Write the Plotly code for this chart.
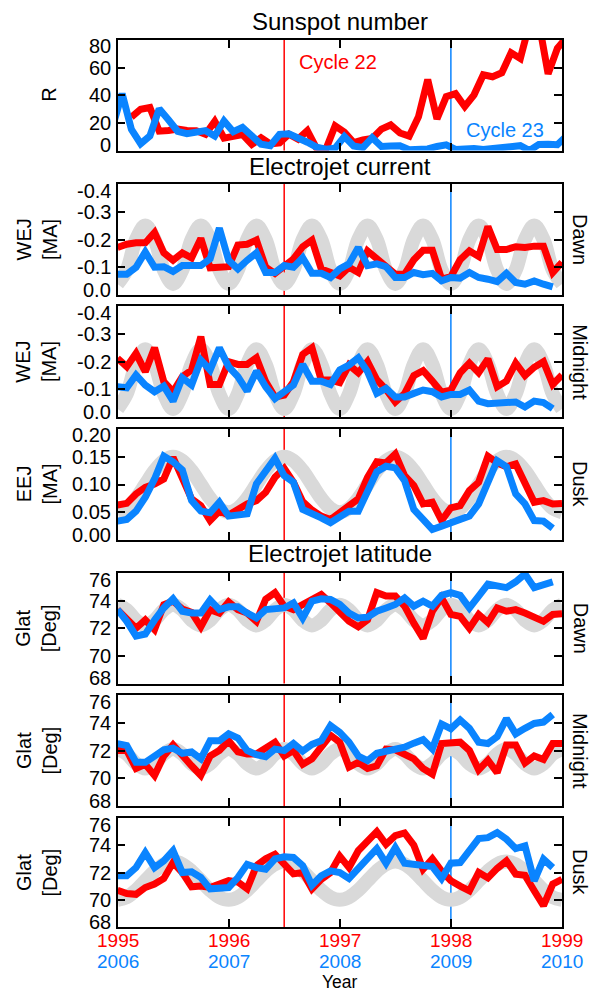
import numpy as np
import plotly.graph_objects as go

W, H = 592, 992
RED = "#ff0000"
BLUE = "#0a84ff"
GRAY = "#d9d9d9"
FONT = "Liberation Sans, Arial, Helvetica, sans-serif"

# ---------------- data ----------------
years_red = ["1995", "1996", "1997", "1998", "1999"]
years_blue = ["2006", "2007", "2008", "2009", "2010"]
year_ticks = [0, 1, 2, 3, 4]
cycle_min = [1.5, 3.0]          # cycle 22 / cycle 23 minima (years since start)

# monthly sunspot numbers (red: Jan 1995 - Dec 1998, blue: Nov 2005 - Dec 2009)
sun_red = [24.2, 29.9, 31.1, 14.0, 14.5, 15.6, 14.5, 14.3, 11.8, 21.1, 9.0, 10.0,
           11.5, 4.4, 9.2, 4.8, 5.5, 11.8, 8.2, 14.4, 1.6, 0.9, 17.9, 13.3,
           5.7, 7.6, 8.7, 15.5, 18.5, 12.7, 10.4, 24.4, 51.3, 22.8, 39.0, 41.2,
           31.9, 40.3, 54.8, 53.4, 56.3, 70.7, 66.6, 92.2, 92.9, 55.5, 74.0, 81.9]
sun_blue = [18.0, 41.1,
            15.3, 4.9, 10.6, 30.2, 22.3, 13.9, 12.2, 12.9, 14.4, 10.5, 21.4, 13.6,
            16.8, 10.7, 4.5, 3.4, 11.7, 12.1, 9.7, 6.0, 2.4, 0.9, 1.7, 10.1,
            3.3, 2.1, 9.3, 2.9, 3.2, 3.4, 0.5, 0.5, 1.1, 2.9, 4.1, 0.8,
            1.5, 1.4, 0.7, 1.2, 2.9, 2.6, 3.5, 0.0, 4.4, 4.6, 4.2, 10.6]

# WEJ dawn [MA]
wej_dawn_red = [-0.171, -0.183, -0.188, -0.188, -0.225, -0.152, -0.125, -0.152, -0.134, -0.204,
                -0.098, -0.098, -0.102, -0.180, -0.183, -0.198, -0.100, -0.078, -0.106, -0.130,
                -0.174, -0.198, -0.094, -0.078, -0.069, -0.100, -0.081, -0.159, -0.130, -0.106,
                -0.075, -0.075, -0.127, -0.161, -0.161, -0.057, -0.066, -0.127, -0.159, -0.139,
                -0.247, -0.164, -0.164, -0.174, -0.171, -0.176, -0.176, -0.081, -0.118]
wej_dawn_blue = [-0.075, -0.075, -0.100, -0.155, -0.100, -0.102, -0.085, -0.106, -0.106, -0.106,
                 -0.130, -0.241, -0.125, -0.094, -0.125, -0.152, -0.081, -0.081, -0.106, -0.100,
                 -0.134, -0.078, -0.078, -0.063, -0.094, -0.112, -0.171, -0.106, -0.112, -0.102,
                 -0.063, -0.063, -0.081, -0.073, -0.078, -0.051, -0.063, -0.061, -0.081, -0.063,
                 -0.057, -0.048, -0.078, -0.045, -0.039, -0.051, -0.039, -0.029]
wej_dawn_gray = [-0.04, -0.09, -0.20, -0.25, -0.20, -0.09, -0.04, -0.09, -0.20, -0.25, -0.20, -0.09,
                 -0.04, -0.09, -0.20, -0.25, -0.20, -0.09, -0.04, -0.09, -0.20, -0.25, -0.20, -0.09,
                 -0.04, -0.09, -0.20, -0.25, -0.20, -0.09, -0.04, -0.09, -0.20, -0.25, -0.20, -0.09,
                 -0.04, -0.09, -0.20, -0.25, -0.20, -0.09, -0.04, -0.09, -0.20, -0.25, -0.20, -0.09,
                 -0.04]

# WEJ midnight [MA]
wej_mid_red = [-0.212, -0.182, -0.230, -0.164, -0.250, -0.128, -0.092, -0.146, -0.170, -0.290,
               -0.118, -0.118, -0.200, -0.190, -0.190, -0.214, -0.128, -0.073, -0.080, -0.128,
               -0.226, -0.250, -0.134, -0.134, -0.125, -0.188, -0.160, -0.200, -0.135, -0.100,
               -0.055, -0.085, -0.150, -0.168, -0.130, -0.090, -0.098, -0.160, -0.195, -0.160,
               -0.210, -0.110, -0.130, -0.195, -0.150, -0.180, -0.200, -0.118, -0.152]
wej_mid_blue = [-0.110, -0.106, -0.152, -0.116, -0.092, -0.112, -0.058, -0.142, -0.116, -0.206,
                -0.170, -0.250, -0.182, -0.146, -0.094, -0.166, -0.110, -0.067, -0.092, -0.116,
                -0.190, -0.130, -0.130, -0.118, -0.170, -0.188, -0.214, -0.164, -0.086, -0.104,
                -0.073, -0.073, -0.086, -0.098, -0.092, -0.073, -0.082, -0.082, -0.098, -0.058,
                -0.049, -0.053, -0.055, -0.055, -0.037, -0.058, -0.053, -0.031]
wej_mid_gray = [-0.03, -0.084, -0.191, -0.245, -0.191, -0.084, -0.03, -0.084, -0.191, -0.245, -0.191, -0.084,
                -0.03, -0.084, -0.191, -0.245, -0.191, -0.084, -0.03, -0.084, -0.191, -0.245, -0.191, -0.084,
                -0.03, -0.084, -0.191, -0.245, -0.191, -0.084, -0.03, -0.084, -0.191, -0.245, -0.191, -0.084,
                -0.03, -0.084, -0.191, -0.245, -0.191, -0.084, -0.03, -0.084, -0.191, -0.245, -0.191, -0.084,
                -0.03]

# EEJ dusk [MA]
eej_red = [0.063, 0.066, 0.083, 0.095, 0.101, 0.110, 0.149, 0.113, 0.074, 0.062,
           0.035, 0.052, 0.045, 0.055, 0.065, 0.071, 0.086, 0.113, 0.129, 0.104,
           0.069, 0.054, 0.043, 0.037, 0.050, 0.062, 0.074, 0.113, 0.141, 0.139,
           0.155, 0.116, 0.098, 0.065, 0.068, 0.035, 0.058, 0.062, 0.089, 0.104,
           0.151, 0.139, 0.132, 0.137, 0.104, 0.068, 0.071, 0.065, 0.066]
eej_blue = [0.034, 0.037, 0.052, 0.077, 0.110, 0.151, 0.141, 0.126, 0.071, 0.052,
            0.049, 0.068, 0.043, 0.046, 0.047, 0.101, 0.123, 0.147, 0.116, 0.104,
            0.055, 0.049, 0.040, 0.031, 0.041, 0.052, 0.052, 0.089, 0.123, 0.133,
            0.130, 0.107, 0.055, 0.037, 0.019, 0.025, 0.031, 0.035, 0.043, 0.065,
            0.102, 0.143, 0.132, 0.083, 0.065, 0.035, 0.034, 0.021]
eej_gray = [0.05, 0.057, 0.075, 0.10, 0.125, 0.143, 0.15, 0.143, 0.125, 0.10, 0.075, 0.057,
            0.05, 0.057, 0.075, 0.10, 0.125, 0.143, 0.15, 0.143, 0.125, 0.10, 0.075, 0.057,
            0.05, 0.057, 0.075, 0.10, 0.125, 0.143, 0.15, 0.143, 0.125, 0.10, 0.075, 0.057,
            0.05, 0.057, 0.075, 0.10, 0.125, 0.143, 0.15, 0.143, 0.125, 0.10, 0.075, 0.057,
            0.05]

# Glat dawn [deg]
glat_dawn_red = [73.35, 72.74, 72.0, 72.6, 71.9, 73.7, 73.96, 73.4, 73.15, 72.1,
                 73.35, 73.1, 73.9, 73.35, 73.1, 72.5, 74.1, 74.58, 73.6, 73.35,
                 73.7, 74.1, 74.45, 73.84, 73.1, 72.5, 72.1, 72.6, 74.58, 74.33,
                 74.33, 73.6, 72.37, 71.26, 73.23, 74.2, 73.0, 72.86, 72.0, 73.0,
                 72.4, 73.47, 73.23, 73.35, 73.1, 72.74, 72.5, 73.0, 73.05]
glat_dawn_blue = [73.35, 72.5, 71.44, 71.58, 72.6, 73.47, 74.13, 73.23, 73.1, 73.1,
                  74.04, 73.35, 73.55, 73.55, 73.1, 72.74, 73.35, 73.47, 73.47, 73.84,
                  72.74, 73.96, 74.13, 74.08, 73.72, 73.1, 72.74, 72.8, 73.23, 73.47,
                  73.72, 74.2, 73.6, 73.96, 73.6, 74.38, 74.58, 74.38, 73.47, 74.33,
                  75.19, 75.07, 74.94, 75.36, 75.93, 74.94, 75.19, 75.36]
glat_dawn_gray = [73.7, 73.33, 72.58, 72.2, 72.58, 73.33, 73.7, 73.33, 72.58, 72.2, 72.58, 73.33,
                  73.7, 73.33, 72.58, 72.2, 72.58, 73.33, 73.7, 73.33, 72.58, 72.2, 72.58, 73.33,
                  73.7, 73.33, 72.58, 72.2, 72.58, 73.33, 73.7, 73.33, 72.58, 72.2, 72.58, 73.33,
                  73.7, 73.33, 72.58, 72.2, 72.58, 73.33, 73.7, 73.33, 72.58, 72.2, 72.58, 73.33,
                  73.7]

# Glat midnight [deg]
glat_mid_red = [72.0, 72.0, 70.7, 71.0, 70.2, 71.6, 72.4, 71.6, 70.9, 70.2,
                71.6, 72.0, 72.7, 71.9, 71.75, 71.75, 72.25, 72.6, 71.6, 72.0,
                71.0, 71.4, 72.25, 73.1, 72.6, 70.8, 71.15, 70.7, 70.9, 72.1,
                72.05, 71.76, 71.4, 70.7, 70.3, 72.5, 72.5, 72.6, 72.0, 70.6,
                71.3, 70.4, 72.4, 72.4, 71.1, 71.6, 71.35, 72.5, 72.5]
glat_mid_blue = [72.5, 72.36, 71.15, 71.15, 71.6, 72.05, 72.17, 71.8, 71.9, 71.4,
                 72.7, 72.7, 73.2, 72.9, 72.0, 71.7, 71.56, 72.1, 72.0, 72.5,
                 71.95, 72.44, 72.7, 73.8, 73.3, 72.6, 71.6, 71.27, 71.8, 71.95,
                 72.05, 72.24, 72.53, 72.78, 72.12, 73.9, 73.57, 74.2, 73.6, 72.6,
                 72.5, 73.0, 74.3, 73.2, 73.6, 73.95, 74.05, 74.6]
glat_mid_gray = [72.1, 71.75, 71.05, 70.7, 71.05, 71.75, 72.1, 71.75, 71.05, 70.7, 71.05, 71.75,
                 72.1, 71.75, 71.05, 70.7, 71.05, 71.75, 72.1, 71.75, 71.05, 70.7, 71.05, 71.75,
                 72.1, 71.75, 71.05, 70.7, 71.05, 71.75, 72.1, 71.75, 71.05, 70.7, 71.05, 71.75,
                 72.1, 71.75, 71.05, 70.7, 71.05, 71.75, 72.1, 71.75, 71.05, 70.7, 71.05, 71.75,
                 72.1]

# Glat dusk [deg]
glat_dusk_red = [70.7, 70.46, 70.4, 70.9, 71.15, 71.56, 72.73, 72.0, 70.95, 71.0,
                 70.9, 71.2, 71.4, 71.3, 70.8, 72.5, 73.0, 73.34, 72.6, 71.9,
                 72.0, 70.8, 71.5, 72.0, 73.2, 72.36, 73.6, 74.25, 75.0, 74.07,
                 74.7, 74.9, 74.0, 72.24, 73.0, 72.1, 71.4, 71.0, 70.66, 72.0,
                 71.6, 72.3, 72.85, 71.88, 71.8, 70.66, 69.56, 71.15, 71.5]
glat_dusk_blue = [71.76, 71.76, 72.36, 73.46, 72.36, 72.85, 73.6, 72.0, 72.05, 71.63,
                  70.8, 70.8, 70.9, 71.63, 72.6, 72.36, 72.24, 73.0, 73.15, 73.1,
                  72.5, 71.07, 71.76, 72.12, 72.0, 71.56, 72.24, 73.1, 73.75, 72.68,
                  73.83, 72.68, 72.6, 72.54, 72.44, 71.56, 72.68, 72.73, 73.58, 74.49,
                  74.56, 74.93, 74.44, 73.75, 73.95, 71.39, 72.98, 72.36]
glat_dusk_gray = [70.0, 70.19, 70.7, 71.4, 72.1, 72.61, 72.8, 72.61, 72.1, 71.4, 70.7, 70.19,
                  70.0, 70.19, 70.7, 71.4, 72.1, 72.61, 72.8, 72.61, 72.1, 71.4, 70.7, 70.19,
                  70.0, 70.19, 70.7, 71.4, 72.1, 72.61, 72.8, 72.61, 72.1, 71.4, 70.7, 70.19,
                  70.0, 70.19, 70.7, 71.4, 72.1, 72.61, 72.8, 72.61, 72.1, 71.4, 70.7, 70.19,
                  70.0]

sun_ticks = [0, 20, 40, 60, 80]
wej_ticks = [-0.4, -0.3, -0.2, -0.1, 0.0]
wej_ticktext = ["-0.4", "-0.3", "-0.2", "-0.1", "0.0"]
eej_ticks = [0.0, 0.05, 0.10, 0.15, 0.20]
eej_ticktext = ["0.00", "0.05", "0.10", "0.15", "0.20"]
glat_ticks = [68, 70, 72, 74, 76]

# ---------------- layout helpers ----------------
t_sun_red = (np.arange(len(sun_red)) + 1.5) / 12.0
t_sun_blue = (np.arange(len(sun_blue)) - 0.5) / 12.0
t_mon = np.arange(49) / 12.0

XL, XR = 117.5, 562.0
frames = [(40, 150.5), (184, 295), (306, 417.3), (429, 540),
          (573, 683.5), (695, 806), (818, 927)]


def py(v):
    return 1 - v / H


def px(v):
    return v / W


panels = [
    dict(red=(t_sun_red, sun_red), blue=(t_sun_blue, sun_blue), gray=None,
         yr=[0, 80], tv=sun_ticks, tt=[str(v) for v in sun_ticks]),
    dict(red=(t_mon, wej_dawn_red), blue=(t_mon, wej_dawn_blue), gray=wej_dawn_gray,
         yr=[0.0, -0.4], tv=wej_ticks, tt=wej_ticktext),
    dict(red=(t_mon, wej_mid_red), blue=(t_mon, wej_mid_blue), gray=wej_mid_gray,
         yr=[0.0, -0.4], tv=wej_ticks, tt=wej_ticktext),
    dict(red=(t_mon, eej_red), blue=(t_mon, eej_blue), gray=eej_gray,
         yr=[0.0, 0.2], tv=eej_ticks, tt=eej_ticktext),
    dict(red=(t_mon, glat_dawn_red), blue=(t_mon, glat_dawn_blue), gray=glat_dawn_gray,
         yr=[68, 76], tv=glat_ticks, tt=[str(v) for v in glat_ticks]),
    dict(red=(t_mon, glat_mid_red), blue=(t_mon, glat_mid_blue), gray=glat_mid_gray,
         yr=[68, 76], tv=glat_ticks, tt=[str(v) for v in glat_ticks]),
    dict(red=(t_mon, glat_dusk_red), blue=(t_mon, glat_dusk_blue), gray=glat_dusk_gray,
         yr=[68, 76], tv=glat_ticks, tt=[str(v) for v in glat_ticks]),
]

fig = go.Figure()
layout = dict(width=W, height=H, margin=dict(l=0, r=0, t=0, b=0),
              paper_bgcolor="white", plot_bgcolor="white", showlegend=False,
              font=dict(family=FONT, size=20, color="black"), hovermode=False)
shapes = []
ann = []
for k, p in enumerate(panels, start=1):
    xa = "x" if k == 1 else f"x{k}"
    ya = "y" if k == 1 else f"y{k}"
    if p["gray"] is not None:
        fig.add_trace(go.Scatter(x=t_mon[:len(p["gray"])], y=p["gray"], mode="lines",
                                 line=dict(color=GRAY, width=14, shape="spline"),
                                 xaxis=xa, yaxis=ya))
    fig.add_trace(go.Scatter(x=p["red"][0], y=p["red"][1], mode="lines",
                             line=dict(color=RED, width=7), xaxis=xa, yaxis=ya))
    fig.add_trace(go.Scatter(x=p["blue"][0][:len(p["blue"][1])], y=p["blue"][1], mode="lines",
                             line=dict(color=BLUE, width=7), xaxis=xa, yaxis=ya))
    top, bot = frames[k - 1]
    axis_common = dict(showline=True, linecolor="black", linewidth=1.5, mirror="allticks",
                       ticks="inside", ticklen=8, tickwidth=1.5, tickcolor="black",
                       showgrid=False, zeroline=False)
    layout["xaxis" if k == 1 else f"xaxis{k}"] = dict(
        domain=[px(XL), px(XR)], anchor=ya, range=[0, 4], tickvals=year_ticks,
        showticklabels=False, **axis_common)
    layout["yaxis" if k == 1 else f"yaxis{k}"] = dict(
        domain=[py(bot), py(top)], anchor=xa, range=p["yr"], tickvals=p["tv"],
        showticklabels=False, **axis_common)
    # tick labels (extreme labels nudged inside the frame, as in the original)
    for tv, tt in zip(p["tv"], p["tt"]):
        shift = 0
        if abs(tv - p["yr"][1]) < 1e-9:
            shift = -6.5
        elif abs(tv - p["yr"][0]) < 1e-9:
            shift = 5.5
        ann.append(dict(text=tt, x=px(113), y=tv, xref="paper", yref=ya, yshift=shift,
                        showarrow=False, xanchor="right", yanchor="middle",
                        font=dict(size=20)))
    for c, col in zip(cycle_min, [RED, BLUE]):
        shapes.append(dict(type="line", xref=xa, yref=f"{ya} domain", x0=c, x1=c, y0=0, y1=1,
                           line=dict(color=col, width=1.5), layer="below"))

xc = px((XL + XR) / 2)
for txt, yy in [("Sunspot number", 21.5), ("Electrojet current", 166.5), ("Electrojet latitude", 553)]:
    ann.append(dict(text=txt, x=xc, y=py(yy), xref="paper", yref="paper", showarrow=False,
                    xanchor="center", yanchor="middle", font=dict(size=24)))

ytitles = ["R", "WEJ<br>[MA]", "WEJ<br>[MA]", "EEJ<br>[MA]", "Glat<br>[Deg]", "Glat<br>[Deg]", "Glat<br>[Deg]"]
rtitles = [None, "Dawn", "Midnight", "Dusk", "Dawn", "Midnight", "Dusk"]
for k, (top, bot) in enumerate(frames):
    ymid = py((top + bot) / 2)
    xx = 49.5 if k == 0 else 36
    ann.append(dict(text=ytitles[k], x=px(xx), y=ymid, xref="paper", yref="paper",
                    showarrow=False, textangle=-90, xanchor="center", yanchor="middle",
                    font=dict(size=20)))
    if rtitles[k]:
        ann.append(dict(text=rtitles[k], x=px(580.5), y=ymid, xref="paper", yref="paper",
                        showarrow=False, textangle=90, xanchor="center", yanchor="middle",
                        font=dict(size=20)))

ann.append(dict(text="Cycle 22", x=px(297), y=py(62), xref="paper", yref="paper",
                showarrow=False, xanchor="left", yanchor="middle", font=dict(size=20, color=RED)))
ann.append(dict(text="Cycle 23", x=px(464), y=py(130), xref="paper", yref="paper",
                showarrow=False, xanchor="left", yanchor="middle", font=dict(size=20, color=BLUE)))

for tv, yr_r, yr_b in zip(year_ticks, years_red, years_blue):
    ann.append(dict(text=yr_r, x=tv, y=py(940.5), xref="x7", yref="paper", showarrow=False,
                    xanchor="center", yanchor="middle", borderpad=0,
                    font=dict(size=19, color=RED)))
    ann.append(dict(text=yr_b, x=tv, y=py(961.7), xref="x7", yref="paper", showarrow=False,
                    xanchor="center", yanchor="middle", borderpad=0,
                    font=dict(size=19, color=BLUE)))
ann.append(dict(text="Year", x=xc, y=py(982.2), xref="paper", yref="paper", showarrow=False,
                xanchor="center", yanchor="middle", borderpad=0, font=dict(size=17.5)))

layout["annotations"] = ann
layout["shapes"] = shapes
fig.update_layout(**layout)
fig.write_html("out.html")
